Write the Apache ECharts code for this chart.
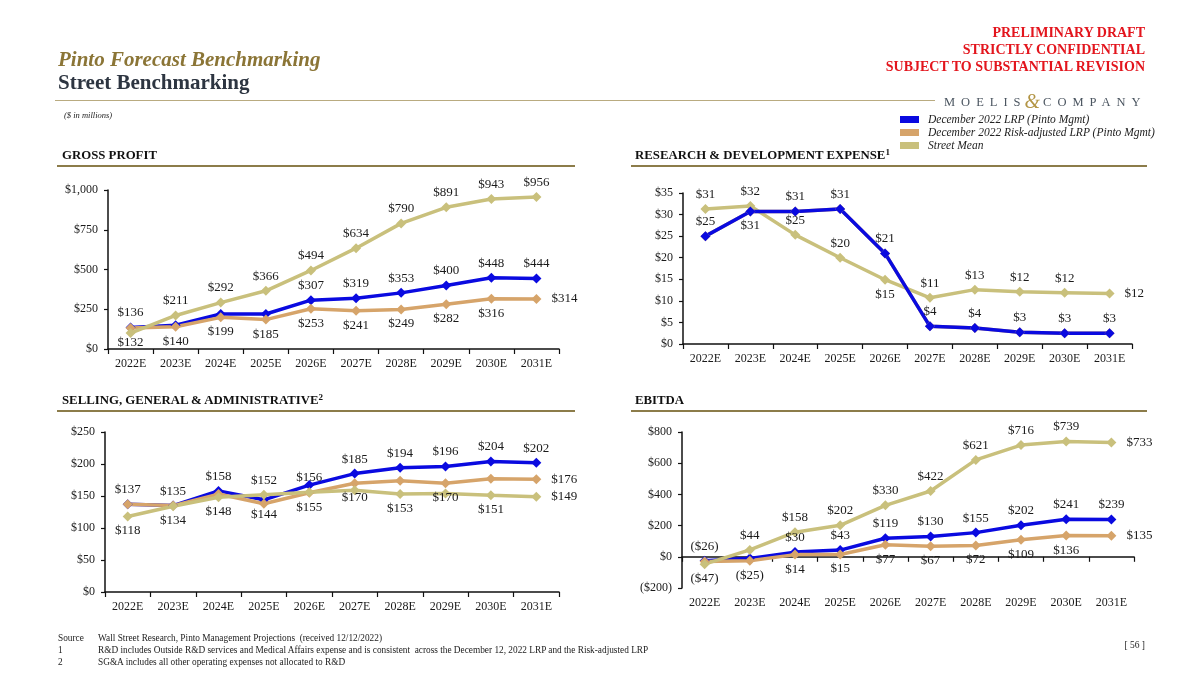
<!DOCTYPE html>
<html>
<head>
<meta charset="utf-8">
<script src="https://cdn.jsdelivr.net/npm/echarts@6/dist/echarts.min.js"></script>
<style>
  html, body { margin:0; padding:0; background:#fff; }
  body { width:1200px; height:676px; position:relative; overflow:hidden; font-family:"Liberation Serif", "DejaVu Serif", serif; }
  #chart { position:absolute; left:0; top:0; width:1200px; height:676px; }
  .t { position:absolute; white-space:nowrap; pointer-events:none; }
  .rule { position:absolute; }
  sup { font-size:0.7em; line-height:0; vertical-align:0.45em; }
  .sec { font-size:12.8px; line-height:16px; font-weight:bold; color:#111; }
</style>
</head>
<body>
<div id="chart"></div>

<!-- header -->
<div class="t" style="right:55px;top:25px;font-size:14px;line-height:16.8px;font-weight:bold;color:#e3151d;text-align:right;">PRELIMINARY DRAFT<br>STRICTLY CONFIDENTIAL<br>SUBJECT TO SUBSTANTIAL REVISION</div>
<div class="t" style="left:58px;top:47px;font-size:21px;line-height:25px;font-weight:bold;font-style:italic;color:#8b7536;">Pinto Forecast Benchmarking</div>
<div class="t" style="left:58px;top:70px;font-size:21px;line-height:25px;font-weight:bold;color:#2d3541;">Street Benchmarking</div>
<div class="rule" style="left:55px;top:100px;width:880px;height:1px;background:#b9ab80;"></div>
<div class="t" style="left:944px;top:90px;font-size:12.5px;line-height:18px;letter-spacing:6px;color:#4b5560;">MOELIS<span style="font-size:20px;font-style:italic;color:#b39545;letter-spacing:3px;margin-left:-2px;position:relative;top:2px;">&amp;</span>COMPANY</div>
<div class="t" style="left:64px;top:109px;font-size:8.5px;line-height:12px;font-style:italic;color:#222;">($ in millions)</div>

<!-- legend -->
<div class="rule" style="left:900px;top:116px;width:19px;height:7px;background:#0a0ae0;"></div>
<div class="rule" style="left:900px;top:129px;width:19px;height:7px;background:#d6a46a;"></div>
<div class="rule" style="left:900px;top:142px;width:19px;height:7px;background:#c9c07c;"></div>
<div class="t" style="left:928px;top:113px;font-size:11.5px;line-height:13.2px;font-style:italic;color:#222;">December 2022 LRP (Pinto Mgmt)<br>December 2022 Risk-adjusted LRP (Pinto Mgmt)<br>Street Mean</div>

<!-- section headers -->
<div class="t sec" style="left:62px;top:147px;">GROSS PROFIT</div>
<div class="t sec" style="left:635px;top:147px;">RESEARCH &amp; DEVELOPMENT EXPENSE<sup>1</sup></div>
<div class="rule" style="left:57px;top:165px;width:518px;height:2px;background:#8c7c4a;"></div>
<div class="rule" style="left:631px;top:165px;width:516px;height:2px;background:#8c7c4a;"></div>
<div class="t sec" style="left:62px;top:392px;">SELLING, GENERAL &amp; ADMINISTRATIVE<sup>2</sup></div>
<div class="t sec" style="left:635px;top:392px;">EBITDA</div>
<div class="rule" style="left:57px;top:410px;width:518px;height:2px;background:#8c7c4a;"></div>
<div class="rule" style="left:631px;top:410px;width:516px;height:2px;background:#8c7c4a;"></div>

<!-- footer -->
<div class="t" style="left:58px;top:632px;font-size:9.3px;line-height:12px;color:#222;">Source<br>1<br>2</div>
<div class="t" style="left:98px;top:632px;font-size:9.3px;line-height:12px;color:#222;">Wall Street Research, Pinto Management Projections&nbsp; (received 12/12/2022)<br>R&amp;D includes Outside R&amp;D services and Medical Affairs expense and is consistent&nbsp; across the December 12, 2022 LRP and the Risk-adjusted LRP<br>SG&amp;A includes all other operating expenses not allocated to R&amp;D</div>
<div class="t" style="right:55px;top:639px;font-size:9.5px;line-height:12px;color:#222;">[ 56 ]</div>

<script>
// ---------------- DATA ----------------
const categories = ['2022E','2023E','2024E','2025E','2026E','2027E','2028E','2029E','2030E','2031E'];

const gpLRP    = [136, 150, 220, 220, 307, 319, 353, 400, 448, 444];
const gpRisk   = [132, 140, 199, 185, 253, 241, 249, 282, 316, 314];
const gpStreet = [100, 211, 292, 366, 494, 634, 790, 891, 943, 956];

const rdLRP    = [25, 30.7, 30.7, 31.3, 21, 4.1, 3.7, 2.7, 2.5, 2.5];
const rdRisk   = [25, 30.7, 30.7, 31.3, 21, 4.1, 3.7, 2.7, 2.5, 2.5];
const rdStreet = [31.3, 32, 25.3, 20, 14.9, 10.7, 12.6, 12.1, 11.9, 11.7];

const sgaLRP    = [137, 135, 158, 144, 167, 185, 194, 196, 204, 202];
const sgaRisk   = [137, 135, 153, 138, 155, 170, 174, 170, 177, 176];
const sgaStreet = [118, 134, 148, 152, 156, 159, 153, 154, 151, 149];

const ebLRP    = [-26, -10, 30, 43, 119, 130, 155, 202, 241, 239];
const ebRisk   = [-30, -25, 14, 15, 77, 67, 72, 109, 136, 135];
const ebStreet = [-47, 44, 158, 202, 330, 422, 621, 716, 739, 733];

const gpTicks  = [0, 250, 500, 750, 1000];
const rdTicks  = [0, 5, 10, 15, 20, 25, 30, 35];
const sgaTicks = [0, 50, 100, 150, 200, 250];
const ebTicks  = [-200, 0, 200, 400, 600, 800];

// ---------------- LABEL PLACEMENT (style) ----------------
// t = top, b = bottom, r = right, '' = hidden
const LBL = {
  gp:  { lrp: ['t','','','','t','t','t','t','t','t'],
         risk:['b','b','b','b','b','b','b','b','b','r'],
         st:  ['','t','t','t','t','t','t','t','t','t'] },
  rd:  { lrp: ['t','b','t','t','t','t','t','t','t','t'],
         risk:['','','','','','','','','',''],
         st:  ['t','t','t','t','b','t','t','t','t','r'] },
  sga: { lrp: ['t','t','t','b','','t','t','t','t','t'],
         risk:['','','','','b','b','','b','','r'],
         st:  ['b','b','b','t','t','','b','','b','r'] },
  eb:  { lrp: ['t','','t','t','t','t','t','t','t','t'],
         risk:['','b','b','b','b','b','b','b','b','r'],
         st:  ['b','t','t','t','t','t','t','t','t','r'] }
};

// ---------------- STYLE ----------------
const C_LRP = '#0a0ae0', C_RISK = '#d6a46a', C_ST = '#c9c07c';
const FONT = 'Liberation Serif';
const posMap = { t:'top', b:'bottom', r:'right' };

function money(v) {
  const r = Math.round(Math.abs(v));
  const s = r.toLocaleString('en-US');
  return v < 0 ? '($' + s + ')' : '$' + s;
}

function buildData(values, pos) {
  return values.map((v, i) => {
    const p = pos[i];
    return {
      value: v,
      label: p ? { show: true, position: posMap[p], distance: p === 'r' ? 10 : 3 } : { show: false }
    };
  });
}

function lineSeries(name, values, pos, color, gi, xi) {
  return {
    name: name, type: 'line',
    xAxisIndex: xi, yAxisIndex: gi,
    data: buildData(values, pos),
    symbol: 'diamond', symbolSize: 10,
    lineStyle: { width: 3.5, color: color },
    itemStyle: { color: color },
    label: { formatter: p => money(p.value), fontFamily: FONT, fontSize: 13, color: '#1a1a1a' },
    animation: false, z: 2
  };
}

const grids = [
  { left: 108, top: 190, width: 451, height: 159 },
  { left: 683, top: 193, width: 449, height: 151 },
  { left: 105, top: 432, width: 454, height: 160 },
  { left: 682, top: 432, width: 452, height: 156 }
];

function xAx(gi, extra) {
  return Object.assign({
    type: 'category', gridIndex: gi, data: categories, boundaryGap: true, position: 'bottom',
    axisLine: { show: true, onZero: false, lineStyle: { color: '#111', width: 1.5 } },
    axisTick: { show: true, length: 5, lineStyle: { color: '#111', width: 1.2 } },
    axisLabel: { fontFamily: FONT, fontSize: 12, color: '#1a1a1a', margin: 9 },
    splitLine: { show: false }
  }, extra || {});
}
function yAx(gi, ticks) {
  return {
    type: 'value', gridIndex: gi,
    min: ticks[0], max: ticks[ticks.length - 1], interval: ticks[1] - ticks[0],
    axisLine: { show: true, lineStyle: { color: '#111', width: 1.5 } },
    axisTick: { show: true, length: 4, lineStyle: { color: '#111', width: 1.2 } },
    axisLabel: { fontFamily: FONT, fontSize: 12, color: '#1a1a1a', margin: 10, formatter: v => money(v) },
    splitLine: { show: false }
  };
}

const xAxes = [
  xAx(0), xAx(1), xAx(2),
  // EBITDA: labels at bottom (no line) ...
  xAx(3, { axisLine: { show: false, onZero: false }, axisTick: { show: false } }),
  // ... and axis line + ticks on the zero line
  xAx(3, { axisLine: { show: true, onZero: true, lineStyle: { color: '#111', width: 1.5 } }, axisLabel: { show: false } })
];
const yAxes = [ yAx(0, gpTicks), yAx(1, rdTicks), yAx(2, sgaTicks), yAx(3, ebTicks) ];

const series = [
  lineSeries('December 2022 LRP (Pinto Mgmt)', gpLRP, LBL.gp.lrp, C_LRP, 0, 0),
  lineSeries('December 2022 Risk-adjusted LRP (Pinto Mgmt)', gpRisk, LBL.gp.risk, C_RISK, 0, 0),
  lineSeries('Street Mean', gpStreet, LBL.gp.st, C_ST, 0, 0),

  lineSeries('December 2022 Risk-adjusted LRP (Pinto Mgmt)', rdRisk, LBL.rd.risk, C_RISK, 1, 1),
  lineSeries('Street Mean', rdStreet, LBL.rd.st, C_ST, 1, 1),
  lineSeries('December 2022 LRP (Pinto Mgmt)', rdLRP, LBL.rd.lrp, C_LRP, 1, 1),

  lineSeries('December 2022 LRP (Pinto Mgmt)', sgaLRP, LBL.sga.lrp, C_LRP, 2, 2),
  lineSeries('December 2022 Risk-adjusted LRP (Pinto Mgmt)', sgaRisk, LBL.sga.risk, C_RISK, 2, 2),
  lineSeries('Street Mean', sgaStreet, LBL.sga.st, C_ST, 2, 2),

  lineSeries('December 2022 LRP (Pinto Mgmt)', ebLRP, LBL.eb.lrp, C_LRP, 3, 4),
  lineSeries('December 2022 Risk-adjusted LRP (Pinto Mgmt)', ebRisk, LBL.eb.risk, C_RISK, 3, 4),
  lineSeries('Street Mean', ebStreet, LBL.eb.st, C_ST, 3, 4)
];

const chart = echarts.init(document.getElementById('chart'), null, { renderer: 'canvas' });
chart.setOption({
  animation: false,
  backgroundColor: '#ffffff',
  grid: grids,
  xAxis: xAxes,
  yAxis: yAxes,
  series: series
});
</script>
</body>
</html>
